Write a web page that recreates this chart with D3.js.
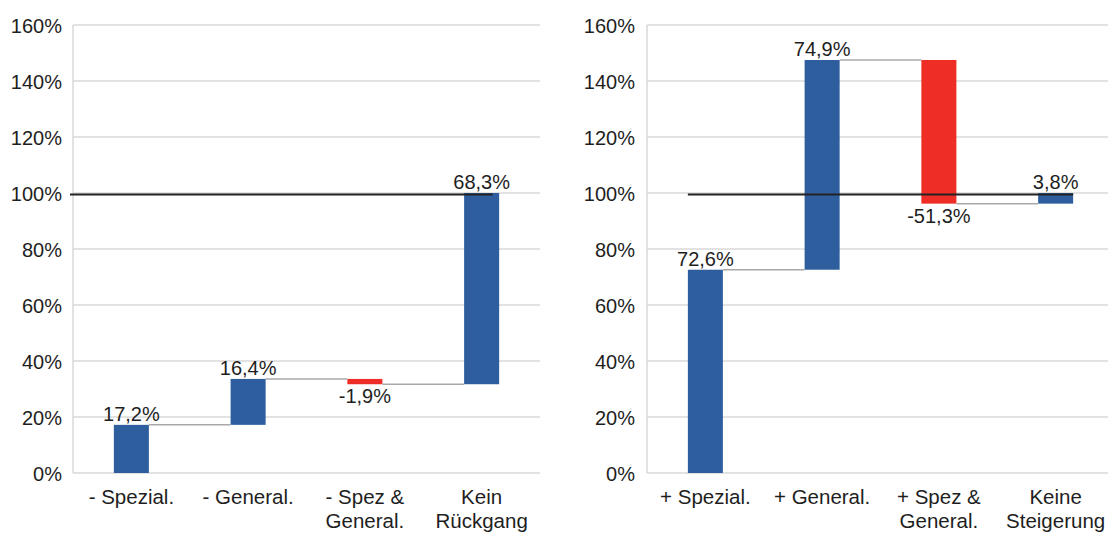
<!DOCTYPE html>
<html>
<head>
<meta charset="utf-8">
<script src="https://cdn.jsdelivr.net/npm/d3@7"></script>
<style>
  html, body { margin: 0; padding: 0; background: #fff; }
  svg { display: block; font-family: "Liberation Sans", Arial, sans-serif; }
</style>
</head>
<body>
<svg id="chart" width="1109" height="533"></svg>
<script>
// Waterfall data: each step adds (or removes) share relative to the baseline
const leftCategories = [["- Spezial."], ["- General."], ["- Spez &", "General."], ["Kein", "Rückgang"]];
const leftValues = [17.2, 16.4, -1.9, 68.3];

const rightCategories = [["+ Spezial."], ["+ General."], ["+ Spez &", "General."], ["Keine", "Steigerung"]];
const rightValues = [72.6, 74.9, -51.3, 3.8];

const yTickValues = [0, 20, 40, 60, 80, 100, 120, 140, 160];
const referenceLevel = 99.5;

const BLUE = "#2E5E9E";
const RED = "#EE2E26";
const GRID = "#D9D9D9";
const CONNECTOR = "#A8A8A8";
const TEXT = "#1E1E1E";

const svg = d3.select("#chart");
// German decimal comma, plain hyphen for negatives
const fmt = v => d3.format(".1f")(v).replace(".", ",").replace("\u2212", "-") + "%";

function drawWaterfall(cfg) {
  const { categories, values, x0, x1, gridEnd, labelRight, refFrom, refTo } = cfg;
  const g = svg.append("g");

  const y = d3.scaleLinear().domain([0, 160]).range([473, 25]);
  const x = d3.scaleBand().domain(d3.range(categories.length)).range([x0, x1]).padding(0);
  const barW = x.bandwidth() * 0.3;
  const cx = i => x(i) + x.bandwidth() / 2;

  // running totals
  let acc = 0;
  const steps = values.map((v, i) => {
    const start = acc;
    acc += v;
    return { i, v, start, end: acc, lo: Math.min(start, acc), hi: Math.max(start, acc) };
  });

  // horizontal gridlines
  g.append("g").selectAll("line").data(yTickValues).join("line")
    .attr("x1", x0).attr("x2", gridEnd)
    .attr("y1", d => y(d)).attr("y2", d => y(d))
    .attr("stroke", GRID).attr("stroke-width", 1.5);

  // vertical axis line
  g.append("line")
    .attr("x1", x0).attr("x2", x0)
    .attr("y1", y(160)).attr("y2", y(0))
    .attr("stroke", GRID).attr("stroke-width", 1.5);

  // y tick labels
  const yAxis = d3.axisLeft(y).tickValues(yTickValues).tickFormat(d => d + "%").tickSize(0).tickPadding(0);
  const ya = g.append("g").attr("transform", `translate(${labelRight},0)`).call(yAxis);
  ya.select(".domain").remove();
  ya.selectAll("text")
    .attr("font-size", 20).attr("fill", TEXT)
    .attr("font-family", "'Liberation Sans', Arial, sans-serif")
    .attr("dy", "0.35em");

  // bars
  g.append("g").selectAll("rect").data(steps).join("rect")
    .attr("x", d => cx(d.i) - barW / 2)
    .attr("width", barW)
    .attr("y", d => y(d.hi))
    .attr("height", d => y(d.lo) - y(d.hi))
    .attr("fill", d => d.v < 0 ? RED : BLUE);

  // connectors between consecutive bars
  g.append("g").selectAll("line").data(steps.slice(0, -1)).join("line")
    .attr("x1", d => cx(d.i) + barW / 2)
    .attr("x2", d => cx(d.i + 1) - barW / 2)
    .attr("y1", d => y(d.end)).attr("y2", d => y(d.end))
    .attr("stroke", CONNECTOR).attr("stroke-width", 1.5);

  // reference line at the 100% level
  g.append("line")
    .attr("x1", refFrom(x, cx, barW)).attr("x2", refTo(x, cx, barW))
    .attr("y1", y(referenceLevel)).attr("y2", y(referenceLevel))
    .attr("stroke", "#222").attr("stroke-width", 2);

  // value labels
  g.append("g").selectAll("text").data(steps).join("text")
    .attr("x", d => cx(d.i))
    .attr("y", d => d.v >= 0 ? y(d.hi) - 4 : y(d.lo) + 19)
    .attr("text-anchor", "middle")
    .attr("font-size", 20).attr("fill", TEXT)
    .text(d => fmt(d.v));

  // category labels
  const cat = g.append("g").selectAll("text").data(categories).join("text")
    .attr("x", (d, i) => cx(i))
    .attr("y", 504)
    .attr("text-anchor", "middle")
    .attr("font-size", 20.5).attr("fill", TEXT);
  cat.selectAll("tspan").data(d => d).join("tspan")
    .attr("x", function () { return d3.select(this.parentNode).attr("x"); })
    .attr("dy", (d, i) => i === 0 ? 0 : 23.5)
    .text(d => d);
}

drawWaterfall({
  categories: leftCategories, values: leftValues,
  x0: 73, x1: 540, gridEnd: 540, labelRight: 62,
  refFrom: (x) => x.range()[0] - 3,
  refTo: (x, cx) => cx(3) + 11
});

drawWaterfall({
  categories: rightCategories, values: rightValues,
  x0: 647, x1: 1114, gridEnd: 1108, labelRight: 635,
  refFrom: (x, cx, w) => cx(0) - w / 2,
  refTo: (x, cx, w) => cx(3) + w / 2
});
</script>
</body>
</html>
